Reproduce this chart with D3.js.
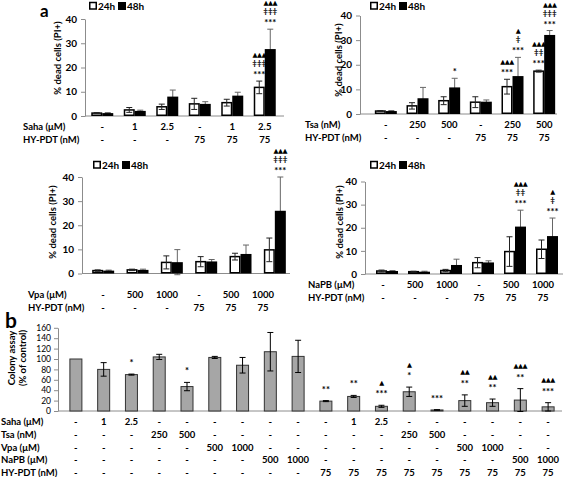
<!DOCTYPE html>
<html><head><meta charset="utf-8">
<script src="https://cdn.jsdelivr.net/npm/d3@7"></script>
<style>body{margin:0;background:#fff}</style>
</head><body><svg id="c" width="567" height="477" xmlns="http://www.w3.org/2000/svg"></svg>
<script>
// ---------- DATA ----------
const groups = [0,1,2,3,4,5];
const yTicksA = [0,10,20,30,40];
const yTicksB = [0,20,40,60,80,100,120,140,160];
const hyLabels = ["-","-","-","75","75","75"];

const sahaLabels = ["-","1","2.5","-","1","2.5"];
const saha24 = [1.2,2.5,3.8,5.0,5.5,11.8];
const saha24Err = [0.2,1.0,1.1,2.3,1.4,2.6];
const saha48 = [1.2,2.1,8.0,5.0,8.4,27.6];
const saha48Err = [0.2,0.3,2.7,0.9,1.4,8.2];
const saha24Ann = ["","","","","","▲▲▲|‡‡‡|***"];
const saha48Ann = ["","","","","","▲▲▲|‡‡‡|***"];

const tsaLabels = ["-","250","500","-","250","500"];
const tsa24 = [1.2,3.3,5.4,4.8,11.1,17.4];
const tsa24Err = [0.2,1.3,1.6,2.2,3.0,0.4];
const tsa48 = [1.2,6.4,10.8,5.0,15.4,32.1];
const tsa48Err = [0.2,4.4,3.7,0.7,7.6,1.8];
const tsa24Ann = ["","","","","▲▲▲|***","▲▲▲|‡‡|***"];
const tsa48Ann = ["","","*","","▲|‡|***","▲▲▲|‡‡‡|***"];

const vpaLabels = ["-","500","1000","-","500","1000"];
const vpa24 = [1.2,1.5,4.6,4.9,7.0,9.8];
const vpa24Err = [0.3,0.3,2.7,2.1,1.4,4.9];
const vpa48 = [1.2,1.5,4.7,5.0,8.1,26.0];
const vpa48Err = [0.2,0.3,5.2,0.8,3.7,14.0];
const vpa24Ann = ["","","","","",""];
const vpa48Ann = ["","","","","","▲▲▲|‡‡‡|***"];

const napbLabels = ["-","500","1000","-","500","1000"];
const napb24 = [1.3,1.0,1.5,4.9,9.7,10.7];
const napb24Err = [0.4,0.2,0.5,2.2,6.4,4.0];
const napb48 = [1.3,1.0,3.9,5.0,20.5,16.4];
const napb48Err = [0.2,0.2,2.5,0.7,7.1,7.8];
const napb24Ann = ["","","","","",""];
const napb48Ann = ["","","","","▲▲▲|‡‡|***","▲|‡|***"];

// panel b
const colonySaha = ["-","1","2.5","-","-","-","-","-","-","-","1","2.5","-","-","-","-","-","-"];
const colonyTsa  = ["-","-","-","250","500","-","-","-","-","-","-","-","250","500","-","-","-","-"];
const colonyVpa  = ["-","-","-","-","-","500","1000","-","-","-","-","-","-","-","500","1000","-","-"];
const colonyNapb = ["-","-","-","-","-","-","-","500","1000","-","-","-","-","-","-","-","500","1000"];
const colonyHy   = ["-","-","-","-","-","-","-","-","-","75","75","75","75","75","75","75","75","75"];
const colony     = [100,80,70,104,47,103,88,114,105,19,28,9,37,2,20,16,21,8];
const colonyErr  = [0,13,1,5,8,2,15,37,31,1,2,2,9,0.5,11,7,22,8];
const colonyAnn  = ["","","*","","*","","","","","**","**","▲|***","▲|*","***","▲▲|**","▲▲|**","▲▲▲|**","▲▲▲|***"];

// ---------- DRAW ----------
const FONT = "Lato, 'Open Sans', 'DejaVu Sans', sans-serif";
const svg = d3.select("#c");
const AXIS_GRAY = "#8c8c8c";

function multiText(g, cx, str, baseY, lh) {
  if (!str) return;
  const lines = str.split("|");
  const n = lines.length;
  lines.forEach((s, k) => {
    const isTri = s.indexOf("▲") >= 0;
    g.append("text").attr("x", cx).attr("y", baseY - (n - 1 - k) * lh + (isTri ? -1 : (s.indexOf("‡")>=0 ? -1 : 2)))
      .attr("text-anchor", "middle")
      .attr("font-family", isTri ? "'DejaVu Sans', sans-serif" : FONT)
      .attr("font-weight", "bold")
      .attr("font-size", isTri ? 6.5 : (s.indexOf("*")>=0 ? 9.5 : 8))
      .attr("letter-spacing", isTri ? -0.5 : 0)
      .text(s);
  });
}

function errBar(g, cx, v, e, y, color, cap) {
  if (e <= 0) return;
  const top = y(v + e), bot = y(v - e);
  g.append("line").attr("x1", cx).attr("x2", cx).attr("y1", top).attr("y2", bot).attr("stroke", color).attr("stroke-width", 1);
  g.append("line").attr("x1", cx - cap/2).attr("x2", cx + cap/2).attr("y1", top).attr("y2", top).attr("stroke", color).attr("stroke-width", 1);
  g.append("line").attr("x1", cx - cap/2).attr("x2", cx + cap/2).attr("y1", bot).attr("y2", bot).attr("stroke", color).attr("stroke-width", 1);
}

function drawPanel(p) {
  const g = svg.append("g");
  const x = d3.scaleBand().domain(groups).range(p.xr);
  const xl = d3.scaleBand().domain(groups).range(p.lr);
  const y = d3.scaleLinear().domain([0, 40]).range(p.yr);
  const bw = 11;
  const c = i => x(i) + x.bandwidth() / 2;

  const ax = g.append("g").attr("transform", `translate(${p.axisX},0)`)
    .call(d3.axisLeft(y).tickValues(yTicksA).tickSize(4).tickSizeOuter(0).tickPadding(4));
  ax.select(".domain").attr("stroke", AXIS_GRAY);
  ax.selectAll(".tick line").attr("stroke", AXIS_GRAY);
  ax.selectAll(".tick text").attr("font-family", FONT).attr("font-weight", "bold").attr("font-size", 10).attr("fill", "#000");
  g.append("line").attr("x1", p.axisX).attr("x2", p.axisEnd).attr("y1", y(0)).attr("y2", y(0)).attr("stroke", AXIS_GRAY);

  groups.forEach(i => errBar(g, c(i) + bw/2, p.v48[i], p.e48[i], y, "#666", 6));
  g.selectAll(".b48").data(p.v48).join("rect")
    .attr("x", (d, i) => c(i)).attr("width", bw)
    .attr("y", d => y(d)).attr("height", d => y(0) - y(d)).attr("fill", "#000");
  g.selectAll(".b24").data(p.v24).join("rect")
    .attr("x", (d, i) => c(i) - bw + 0.75).attr("width", bw - 1.5)
    .attr("y", d => y(d)).attr("height", d => y(0) - y(d) - 0.75)
    .attr("fill", "#fff").attr("stroke", "#000").attr("stroke-width", 1.5);
  groups.forEach(i => errBar(g, c(i) - bw/2, p.v24[i], p.e24[i], y, "#222", 6));

  groups.forEach(i => {
    multiText(g, c(i) - bw/2, p.a24[i], y(p.v24[i] + p.e24[i]) - 5, 9);
    multiText(g, c(i) + bw/2, p.a48[i], y(p.v48[i] + p.e48[i]) - 5, 9);
  });

  g.append("text").attr("transform", `translate(${p.titleX},${p.titleY}) rotate(-90)`)
    .attr("text-anchor", "middle").attr("font-family", FONT).attr("font-weight", "bold").attr("font-size", 9.5)
    .text("% dead cells (PI+)");

  const L = p.legend;
  g.append("rect").attr("x", L[0] + 0.75).attr("y", L[1] - 3.5).attr("width", 6.5).attr("height", 6.5).attr("fill", "#fff").attr("stroke", "#000").attr("stroke-width", 1.5);
  g.append("text").attr("x", L[0] + 9).attr("y", L[1] + 3.5).attr("font-family", FONT).attr("font-weight", "bold").attr("font-size", 10).text("24h");
  g.append("rect").attr("x", L[0] + 29).attr("y", L[1] - 4).attr("width", 8).attr("height", 8).attr("fill", "#000");
  g.append("text").attr("x", L[0] + 38).attr("y", L[1] + 3.5).attr("font-family", FONT).attr("font-weight", "bold").attr("font-size", 10).text("48h");

  p.rows.forEach((row, r) => {
    g.append("text").attr("x", p.rowX).attr("y", p.rowY[r] + 3.5).attr("font-family", FONT).attr("font-weight", "bold").attr("font-size", 9.5).text(p.names[r]);
    g.selectAll(null).data(row).join("text")
      .attr("x", (d, i) => xl(i) + xl.bandwidth() / 2).attr("y", p.rowY[r] + 3.5)
      .attr("text-anchor", "middle").attr("font-family", FONT).attr("font-weight", "bold").attr("font-size", 9.5)
      .text(d => d);
  });
}

drawPanel({xr:[86,281], lr:[86,281], yr:[116,19], axisX:85, axisEnd:284, titleX:61, titleY:58, legend:[89,6],
  rowX:23, rowY:[126,139], names:["Saha (μM)","HY-PDT (nM)"], rows:[sahaLabels, hyLabels],
  v24:saha24, e24:saha24Err, v48:saha48, e48:saha48Err, a24:saha24Ann, a48:saha48Ann});
drawPanel({xr:[370,560], lr:[370,560], yr:[114,15.5], axisX:360, axisEnd:557, titleX:342, titleY:60, legend:[370,6],
  rowX:305, rowY:[124,137], names:["Tsa (nM)","HY-PDT (nM)"], rows:[tsaLabels, hyLabels],
  v24:tsa24, e24:tsa24Err, v48:tsa48, e48:tsa48Err, a24:tsa24Ann, a48:tsa48Ann});
drawPanel({xr:[86,292], lr:[87,279], yr:[273.5,177], axisX:82, axisEnd:290, titleX:56, titleY:222, legend:[93,165],
  rowX:28, rowY:[294,307], names:["Vpa (μM)","HY-PDT (nM)"], rows:[vpaLabels, hyLabels],
  v24:vpa24, e24:vpa24Err, v48:vpa48, e48:vpa48Err, a24:vpa24Ann, a48:vpa48Ann});
drawPanel({xr:[371,563], lr:[367,559], yr:[274,181.5], axisX:365, axisEnd:563, titleX:343, titleY:222, legend:[370,165],
  rowX:308, rowY:[284,297], names:["NaPB (μM)","HY-PDT (nM)"], rows:[napbLabels, hyLabels],
  v24:napb24, e24:napb24Err, v48:napb48, e48:napb48Err, a24:napb24Ann, a48:napb48Ann});

svg.append("text").attr("x", 40).attr("y", 17).attr("font-family", FONT).attr("font-weight", "bold").attr("font-size", 17).text("a");
svg.append("text").attr("x", 5).attr("y", 328).attr("font-family", FONT).attr("font-weight", "bold").attr("font-size", 21).text("b");

// ---------- PANEL B ----------
(function(){
  const g = svg.append("g");
  const idx = d3.range(colony.length);
  const x = d3.scaleBand().domain(idx).range([62, 562]);
  const y = d3.scaleLinear().domain([0, 160]).range([411, 327.8]);
  const c = i => x(i) + x.bandwidth() / 2;
  const bw = 12;
  const ax = g.append("g").attr("transform", "translate(58,0)")
    .call(d3.axisLeft(y).tickValues(yTicksB).tickSize(4).tickSizeOuter(0).tickPadding(3));
  ax.select(".domain").attr("stroke", AXIS_GRAY);
  ax.selectAll(".tick line").attr("stroke", AXIS_GRAY);
  ax.selectAll(".tick text").attr("font-family", FONT).attr("font-size", 8.5).attr("fill", "#000");
  g.append("line").attr("x1", 58).attr("x2", 562).attr("y1", y(0)).attr("y2", y(0)).attr("stroke", AXIS_GRAY);

  g.selectAll(".cb").data(colony).join("rect")
    .attr("x", (d, i) => c(i) - bw/2).attr("width", bw)
    .attr("y", d => y(d)).attr("height", d => y(0) - y(d))
    .attr("fill", "#a6a6a6").attr("stroke", "#333").attr("stroke-width", 1);
  idx.forEach(i => errBar(g, c(i), colony[i], colonyErr[i], y, "#000", 6));
  idx.forEach(i => multiText(g, c(i), colonyAnn[i], y(colony[i] + colonyErr[i]) - 10, 9.5));

  const tt = g.append("text").attr("transform", "translate(17,358) rotate(-90)")
    .attr("text-anchor", "middle").attr("font-family", FONT).attr("font-weight", "bold").attr("font-size", 9.5);
  tt.append("tspan").attr("x", 0).attr("dy", -2).text("Colony assay");
  tt.append("tspan").attr("x", 0).attr("dy", 11).text("(% of control)");

  const rows = [colonySaha, colonyTsa, colonyVpa, colonyNapb, colonyHy];
  const names = ["Saha (μM)", "Tsa (nM)", "Vpa (μM)", "NaPB (μM)", "HY-PDT (nM)"];
  const rowY = [421, 434, 447, 459.5, 472];
  rows.forEach((row, r) => {
    g.append("text").attr("x", 1).attr("y", rowY[r] + 3.5).attr("font-family", FONT).attr("font-weight", "bold").attr("font-size", 9.5).text(names[r]);
    g.selectAll(null).data(row).join("text")
      .attr("x", (d, i) => c(i)).attr("y", rowY[r] + 3.5)
      .attr("text-anchor", "middle").attr("font-family", FONT).attr("font-weight", "bold").attr("font-size", 9.5)
      .text(d => d);
  });
})();
</script>
</body></html>
